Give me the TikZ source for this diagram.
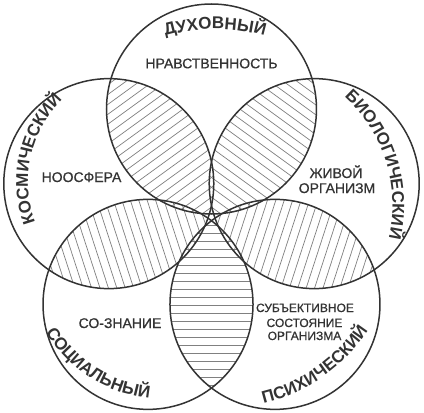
\documentclass[tikz,border=0pt]{standalone}
\usepackage{fontspec}
\setmainfont{Liberation Sans}
\newfontfamily\labelfont[FakeBold=0.6]{Liberation Sans}
\usetikzlibrary{decorations.text}
\definecolor{ink}{HTML}{333333}
\newcommand{\bigletters}{\bfseries\fontsize{17}{19}\selectfont}
\newcommand{\ringradius}{105}

\begin{document}
\begin{tikzpicture}[
                    x=1pt, y=1pt,
                    ring/.style={draw=ink, line width=1.5pt},
                    hatch_line/.style={draw=black!50, line width=0.7pt},
                    inner_label/.style={text=ink, font=\labelfont\fontsize{14}{16}\selectfont, anchor=base, inner sep=0pt},
                    small_label/.style={text=ink, font=\labelfont\fontsize{12}{14}\selectfont, anchor=base, inner sep=0pt},
                    arc_label/.style={decorate, decoration={text along path, text align=center, text color=ink, text={|\bigletters|#1}}}
                ]
                    \fill[white] (-211.5,-196) rectangle (212.5,217);
                    \useasboundingbox (-211.5,-196) rectangle (212.5,217);
                    \coordinate (C) at (0,0);
                    \foreach \n/\a in {top/90, right/18, left/162, lowleft/234, lowright/306}
                        \coordinate (\n) at (\a:108);

                    % hatched lenses
                    \foreach \p/\q/\a in {top/left/126, top/right/54, left/lowleft/198, right/lowright/342, lowleft/lowright/270}{
                        \begin{scope}
                            \clip (\p) circle[radius=\ringradius];
                            \clip (\q) circle[radius=\ringradius];
                            \foreach \k in {1,...,24}
                                \draw[hatch_line, rotate=\a] (\k*8,-60) -- (\k*8,60);
                        \end{scope}
                    }

                    % circles
                    \foreach \n in {top, right, left, lowleft, lowright}
                        \draw[ring] (\n) circle[radius=\ringradius];

                    % curved labels
                    \path[arc_label=ДУХОВНЫЙ] (3.5,11) ++(130:177) arc[start angle=130, end angle=50, radius=177];
                    \path[arc_label=БИОЛОГИЧЕСКИЙ] (36,12) ++(60:145) arc[start angle=60, end angle=-25, radius=145];
                    \path[arc_label=КОСМИЧЕСКИЙ] (-67.5,35) ++(205:116) arc[start angle=205, end angle=130, radius=116];
                    \path[arc_label=СОЦИАЛЬНЫЙ] (-49.5,-47) ++(205:134.6) arc[start angle=205, end angle=270, radius=134.6];
                    \path[arc_label=ПСИХИЧЕСКИЙ] (12.5,-18.5) ++(280:172.5) arc[start angle=280, end angle=330, radius=172.5];

                    % inner labels
                    \node[inner_label] (moral) at (0,148.7) {НРАВСТВЕННОСТЬ};
                    \node[inner_label] (noosphere) at (-130,35) {НООСФЕРА};
                    \node[inner_label] (alive) at (124.5,39) {ЖИВОЙ};
                    \node[inner_label] (organism) at (125.5,24) {ОРГАНИЗМ};
                    \node[inner_label] (conscience) at (-91.5,-111) {СО-ЗНАНИЕ};
                    \node[small_label] (subjective) at (93.5,-95) {СУБЪЕКТИВНОЕ};
                    \node[small_label] (state) at (93,-110) {СОСТОЯНИЕ};
                    \node[small_label] (organisma) at (93,-123) {ОРГАНИЗМА};
                \end{tikzpicture}
\end{document}
